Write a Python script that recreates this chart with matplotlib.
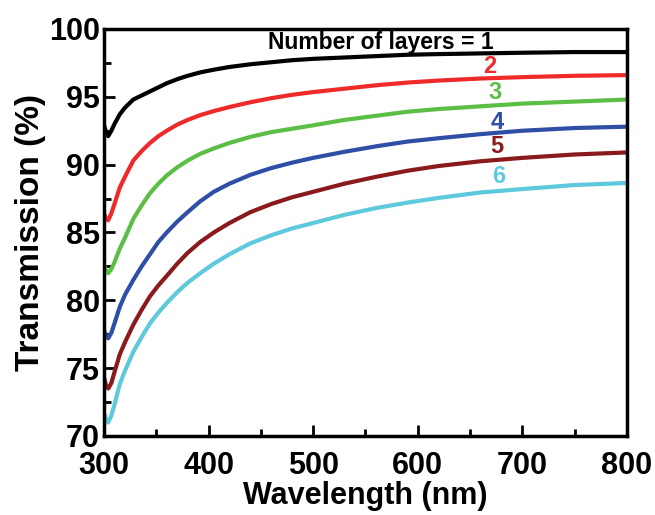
import matplotlib
matplotlib.use("Agg")
import matplotlib.pyplot as plt
from matplotlib.ticker import MultipleLocator

plt.rcParams['font.family'] = ['Liberation Sans', 'DejaVu Sans']
plt.rcParams['font.weight'] = 'bold'

# wavelength grid (nm)
wavelength = [300, 302, 304, 307, 310, 315, 320, 328, 336, 344, 352, 360, 370,
              380, 392, 405, 420, 440, 460, 480, 500, 530, 560, 590, 620, 660,
              700, 750, 800]

# transmission (%) for each number of layers
layer1 = [92.9, 92.4, 92.1, 92.5, 93.0, 93.7, 94.2, 94.8, 95.1, 95.4, 95.7,
          96.0, 96.3, 96.55, 96.8, 97.0, 97.2, 97.4, 97.55, 97.7, 97.8, 97.9,
          98.0, 98.1, 98.15, 98.2, 98.25, 98.3, 98.3]
layer2 = [86.4, 86.0, 85.9, 86.4, 87.1, 88.3, 89.1, 90.3, 91.0, 91.6, 92.1,
          92.5, 92.95, 93.3, 93.65, 93.95, 94.25, 94.6, 94.9, 95.15, 95.35,
          95.6, 95.85, 96.05, 96.2, 96.35, 96.45, 96.55, 96.6]
layer3 = [82.6, 82.2, 82.0, 82.3, 82.8, 83.8, 84.6, 86.0, 87.0, 87.9, 88.6,
          89.2, 89.8, 90.3, 90.8, 91.2, 91.6, 92.05, 92.4, 92.65, 92.9, 93.3,
          93.6, 93.9, 94.1, 94.3, 94.5, 94.65, 94.8]
layer4 = [77.8, 77.3, 77.2, 77.6, 78.3, 79.5, 80.4, 81.5, 82.5, 83.4, 84.3,
          85.0, 85.8, 86.5, 87.3, 88.0, 88.6, 89.25, 89.75, 90.15, 90.5, 90.95,
          91.35, 91.7, 91.95, 92.25, 92.5, 92.7, 92.8]
layer5 = [74.3, 73.7, 73.5, 73.9, 74.7, 76.0, 76.9, 78.2, 79.3, 80.3, 81.1,
          81.8, 82.7, 83.5, 84.3, 85.0, 85.7, 86.5, 87.1, 87.6, 88.0, 88.6,
          89.1, 89.55, 89.9, 90.25, 90.5, 90.75, 90.9]
layer6 = [71.7, 71.2, 71.0, 71.5, 72.3, 73.8, 74.8, 76.2, 77.3, 78.3, 79.1,
          79.8, 80.6, 81.3, 82.0, 82.7, 83.4, 84.2, 84.8, 85.3, 85.7, 86.3,
          86.8, 87.2, 87.55, 87.95, 88.2, 88.5, 88.65]

series = [layer1, layer2, layer3, layer4, layer5, layer6]
labels = ["Number of layers = 1", "2", "3", "4", "5", "6"]
colors = ["#000000", "#ee2a2a", "#5cbf45", "#2f4fa6", "#8a1a1c", "#5ec9dc"]
label_pos = [(565, 99.0), (669, 97.2), (674, 95.35), (676, 93.1), (676, 91.35), (677, 89.1)]

fig = plt.figure(figsize=(6.55, 5.15), dpi=100)
ax = fig.add_axes([0.1588, 0.1534, 0.7982, 0.7903])

for vals, col in zip(series, colors):
    ax.plot(wavelength, vals, color=col, lw=3.0, solid_joinstyle='round')

for lab, col, (lx, ly) in zip(labels, colors, label_pos):
    fs = 16.5 if len(lab) > 2 else 17
    ax.text(lx, ly, lab, color=col, fontsize=fs, fontweight='bold',
            ha='center', va='center')

ax.set_xlim(300, 800)
ax.set_ylim(70, 100)
ax.xaxis.set_major_locator(MultipleLocator(100))
ax.xaxis.set_minor_locator(MultipleLocator(50))
ax.yaxis.set_major_locator(MultipleLocator(5))
ax.yaxis.set_minor_locator(MultipleLocator(2.5))
ax.tick_params(which='both', direction='in', width=2)
ax.tick_params(axis='x', pad=11, labelsize=22)
ax.tick_params(axis='y', pad=3, labelsize=22)
ax.tick_params(which='major', length=8)
ax.tick_params(which='minor', length=5)
for lbl in ax.get_xticklabels() + ax.get_yticklabels():
    lbl.set_fontweight('bold')
for sp in ax.spines.values():
    sp.set_linewidth(2.5)

ax.set_xlabel("Wavelength (nm)", fontsize=22, fontweight='bold', labelpad=0)
ax.set_ylabel("Transmission (%)", fontsize=24, fontweight='bold', labelpad=2)

fig.savefig("out.png", dpi=100)
